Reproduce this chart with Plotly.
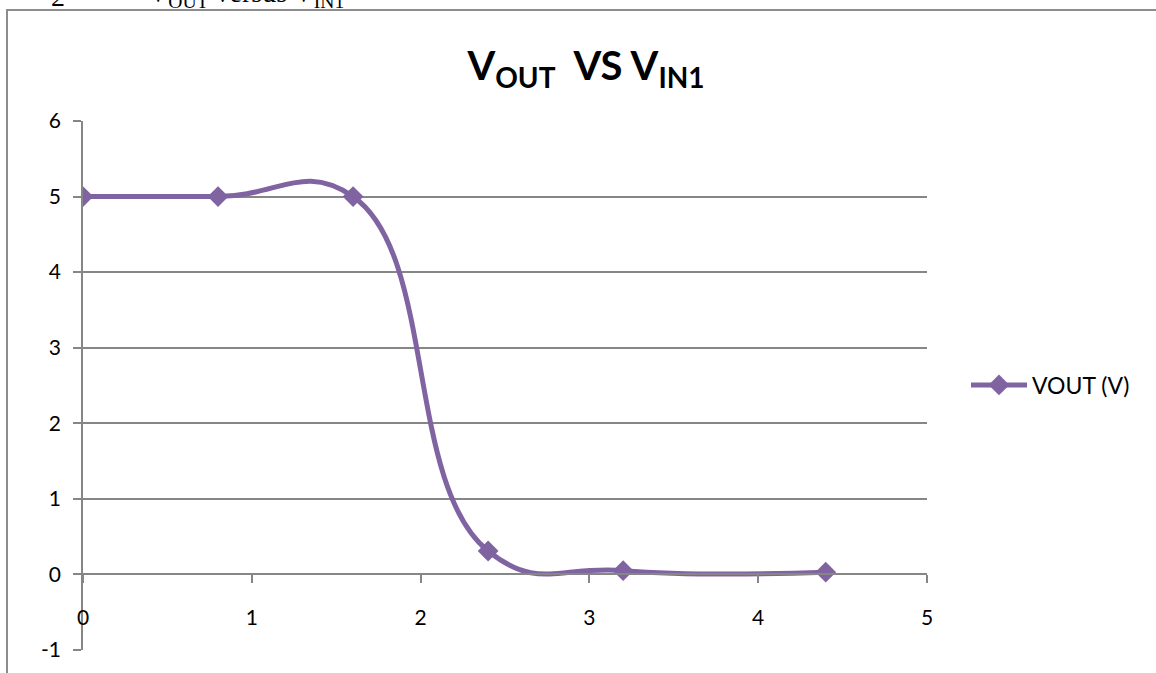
import plotly.graph_objects as go

# Input sweep (V) and measured output (V)
vin1 = [0, 0.8, 1.6, 2.4, 3.2, 4.4]
vout = [5, 5, 5, 0.31, 0.05, 0.03]
series_name = "VOUT (V)"

x_ticks = [0, 1, 2, 3, 4, 5]
y_ticks = [-1, 0, 1, 2, 3, 4, 5, 6]
y_tick_text = ["-1", "0", "1", "2", "3", "4", "5", "6"]

W, H = 1156, 673
L, R, T, B = 83, 229, 121, 23
plot_w = W - L - R
plot_h = H - T - B


def px_x(p):
    return (p - L) / plot_w


def px_y(p):
    return (H - B - p) / plot_h


purple = "#8064A2"
grid = "#868686"
font_family = "Lato, 'Open Sans', sans-serif"

fig = go.Figure()
fig.add_trace(go.Scatter(
    x=vin1, y=vout, name=series_name, mode="lines+markers",
    line=dict(color=purple, width=5, shape="spline", smoothing=1.3),
    marker=dict(symbol="diamond", size=16, color=purple),
))

fig.update_layout(
    width=W, height=H,
    margin=dict(l=L, r=R, t=T, b=B),
    paper_bgcolor="white", plot_bgcolor="white",
    showlegend=True,
    font=dict(family=font_family, size=21, color="black"),
    title=dict(
        text="<b>V<sub>OUT</sub>  VS V<sub>IN1</sub></b>",
        x=586 / W, xref="container", xanchor="center",
        y=1 - 66 / H, yref="container", yanchor="middle",
        font=dict(family=font_family, size=40, color="black"),
    ),
    legend=dict(
        x=px_x(966), y=px_y(385), xanchor="left", yanchor="middle",
        font=dict(family=font_family, size=23), itemwidth=56,
        bgcolor="rgba(0,0,0,0)",
    ),
    xaxis=dict(
        range=[0, 5], tickvals=x_ticks, showgrid=False, zeroline=False,
        showline=True, linecolor=grid, linewidth=1.5,
        ticks="outside", ticklen=8, tickcolor=grid, tickwidth=1.5,
        anchor="free", position=1 / 7, ticklabelstandoff=17,
        tickfont=dict(family=font_family, size=21),
    ),
    yaxis=dict(
        range=[-1, 6], tickvals=y_ticks, ticktext=y_tick_text,
        showgrid=True, gridcolor=grid, gridwidth=1.5, zeroline=False,
        showline=True, linecolor=grid, linewidth=1.5,
        ticks="outside", ticklen=8, tickcolor=grid, tickwidth=1.5,
        ticklabelstandoff=8,
        tickfont=dict(family=font_family, size=21),
    ),
)

# Chart frame (left and top edges)
fig.add_shape(
    type="path", xref="paper", yref="paper",
    path=f"M {px_x(7)},{px_y(H + 5)} L {px_x(7)},{px_y(10)} L {px_x(W + 5)},{px_y(10)}",
    line=dict(color="#8C8C8C", width=2),
)

# Caption text above the chart frame
fig.add_annotation(
    text="2", xref="paper", yref="paper",
    x=px_x(58), y=px_y(14), xanchor="center", yanchor="bottom",
    showarrow=False, font=dict(family="Liberation Serif", size=28, color="black"),
)
fig.add_annotation(
    text="V<sub>OUT</sub> versus V<sub>IN1</sub>", xref="paper", yref="paper",
    x=px_x(146), y=px_y(14), xanchor="left", yanchor="bottom",
    showarrow=False, font=dict(family="Liberation Serif", size=28, color="black"),
)

fig.write_html("out.html", config={"displayModeBar": False})
